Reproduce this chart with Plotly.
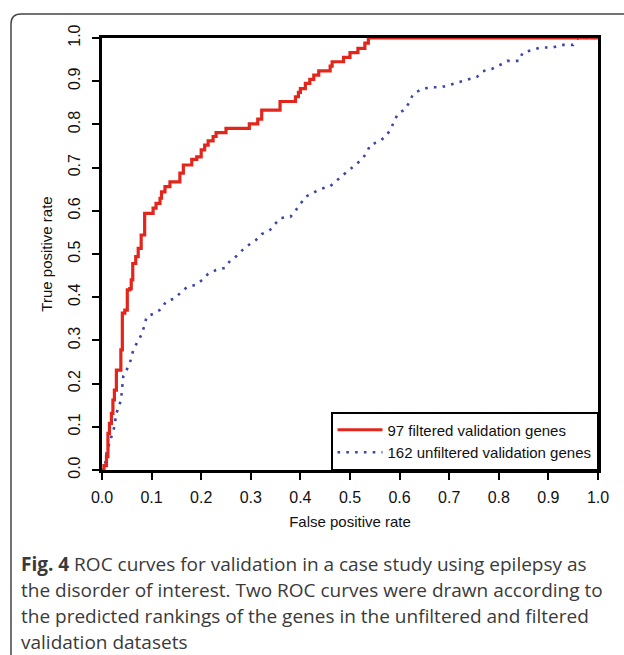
import plotly.graph_objects as go

# Filtered (97 genes) ROC curve - step points (x = FPR where new level starts, y = TPR level)
filtered_fpr = [0, 0.004, 0.009, 0.012, 0.015, 0.019, 0.022, 0.025, 0.029, 0.038,
                0.041, 0.046, 0.051, 0.056, 0.059, 0.062, 0.068, 0.073, 0.079, 0.086,
                0.103, 0.109, 0.117, 0.12, 0.127, 0.137, 0.157, 0.164, 0.181, 0.191,
                0.2, 0.207, 0.214, 0.224, 0.23, 0.25, 0.297, 0.314, 0.322, 0.359,
                0.39, 0.396, 0.4, 0.41, 0.419, 0.427, 0.437, 0.46, 0.464, 0.487,
                0.5, 0.516, 0.53, 0.537, 1.0]
filtered_tpr = [0, 0.01, 0.031, 0.085, 0.108, 0.131, 0.162, 0.185, 0.231, 0.278,
                0.363, 0.37, 0.417, 0.42, 0.44, 0.478, 0.494, 0.513, 0.544, 0.594,
                0.606, 0.617, 0.629, 0.644, 0.656, 0.667, 0.687, 0.706, 0.719, 0.725,
                0.741, 0.752, 0.762, 0.772, 0.781, 0.791, 0.801, 0.812, 0.833, 0.853,
                0.864, 0.874, 0.883, 0.895, 0.904, 0.914, 0.924, 0.935, 0.945, 0.955,
                0.966, 0.976, 0.988, 1.0, 1.0]

# Unfiltered (162 genes) ROC curve
unfiltered_fpr = [0.0, 0.005, 0.009, 0.015, 0.021, 0.026, 0.028, 0.035, 0.039, 0.041,
                  0.043, 0.052, 0.058, 0.063, 0.071, 0.079, 0.085, 0.09, 0.107, 0.12,
                  0.129, 0.146, 0.158, 0.171, 0.19, 0.203, 0.214, 0.23, 0.248, 0.258,
                  0.271, 0.283, 0.297, 0.31, 0.322, 0.339, 0.359, 0.38, 0.391, 0.4,
                  0.411, 0.426, 0.442, 0.46, 0.472, 0.485, 0.498, 0.511, 0.524, 0.534,
                  0.541, 0.558, 0.572, 0.581, 0.589, 0.596, 0.611, 0.62, 0.627, 0.642,
                  0.66, 0.684, 0.702, 0.72, 0.738, 0.756, 0.768, 0.787, 0.803, 0.817,
                  0.841, 0.848, 0.866, 0.884, 0.908, 0.926, 0.95, 0.96, 1.0]
unfiltered_tpr = [0.0, 0.0, 0.039, 0.064, 0.083, 0.104, 0.129, 0.148, 0.17, 0.194,
                  0.218, 0.237, 0.255, 0.278, 0.295, 0.312, 0.332, 0.355, 0.363, 0.373,
                  0.39, 0.397, 0.41, 0.423, 0.429, 0.441, 0.454, 0.463, 0.468, 0.484,
                  0.495, 0.509, 0.522, 0.532, 0.546, 0.556, 0.583, 0.586, 0.602, 0.617,
                  0.633, 0.642, 0.651, 0.657, 0.67, 0.682, 0.694, 0.707, 0.719, 0.735,
                  0.753, 0.76, 0.772, 0.787, 0.806, 0.824, 0.835, 0.852, 0.87, 0.88,
                  0.886, 0.886, 0.892, 0.898, 0.904, 0.91, 0.923, 0.929, 0.938, 0.947,
                  0.947, 0.966, 0.972, 0.978, 0.978, 0.984, 0.984, 1.0, 1.0]

tick_vals = [0.0, 0.1, 0.2, 0.3, 0.4, 0.5, 0.6, 0.7, 0.8, 0.9, 1.0]
tick_text = ["0.0", "0.1", "0.2", "0.3", "0.4", "0.5", "0.6", "0.7", "0.8", "0.9", "1.0"]

series_names = ["97 filtered validation genes", "162 unfiltered validation genes"]

caption_lines = [
    "<b>Fig. 4</b> ROC curves for validation in a case study using epilepsy as",
    "the disorder of interest. Two ROC curves were drawn according to",
    "the predicted rankings of the genes in the unfiltered and filtered",
    "validation datasets",
]

W, H = 624, 655
ML, MR, MT, MB = 102, 26, 38, 185
PW, PH = W - ML - MR, H - MT - MB


def px_x(px):
    return (px - ML) / PW


def px_y(py):
    return (H - MB - py) / PH


fig = go.Figure()
fig.add_trace(go.Scatter(
    x=unfiltered_fpr, y=unfiltered_tpr, mode="lines", name=series_names[1],
    line=dict(color="#3c46a8", width=2.6, dash="2.6px,6.2px"),
))
fig.add_trace(go.Scatter(
    x=filtered_fpr, y=filtered_tpr, mode="lines", name=series_names[0],
    line=dict(color="#e2261c", width=3.2, shape="hv"),
))

FONT = "Liberation Sans, Arial, sans-serif"
tick_font = dict(family=FONT, size=16, color="#111")
title_font = dict(family=FONT, size=15, color="#111")
fig.update_layout(
    width=W, height=H,
    margin=dict(l=ML, r=MR, t=MT, b=MB),
    paper_bgcolor="white", plot_bgcolor="white",
    showlegend=True,
    legend=dict(
        x=1, y=0, xanchor="right", yanchor="bottom",
        bgcolor="white", bordercolor="black", borderwidth=1.5,
        font=dict(family=FONT, size=15, color="#111"),
        traceorder="reversed", tracegroupgap=0,
        itemwidth=45,
    ),
    xaxis=dict(
        range=[0, 1], tickvals=tick_vals, ticktext=tick_text,
        showgrid=False, zeroline=False, showline=True, mirror=True,
        linecolor="black", linewidth=2.5,
        ticks="outside", ticklen=7, tickwidth=2, tickcolor="black",
        tickfont=tick_font, ticklabelstandoff=4,
        title=dict(text="False positive rate", font=title_font, standoff=12),
    ),
    yaxis=dict(
        range=[0, 1], tickvals=tick_vals, ticktext=tick_text,
        showgrid=False, zeroline=False, showline=True, mirror=True,
        linecolor="black", linewidth=2.5,
        ticks="outside", ticklen=7, tickwidth=2, tickcolor="black",
        tickfont=tick_font, tickangle=-90, ticklabelstandoff=6,
        title=dict(text="True positive rate", font=title_font, standoff=10),
    ),
)

# Rounded figure frame (top-left corner visible)
r = 10
x0, y0 = 11, 14
path = (f"M {px_x(x0)} {px_y(H + 20)} L {px_x(x0)} {px_y(y0 + r)} "
        f"Q {px_x(x0)} {px_y(y0)} {px_x(x0 + r)} {px_y(y0)} "
        f"L {px_x(W + 20)} {px_y(y0)}")
fig.add_shape(type="path", path=path, xref="paper", yref="paper",
              line=dict(color="#444", width=1.5), layer="below")

caption_y = [564, 590, 616, 642]
for txt, cy in zip(caption_lines, caption_y):
    fig.add_annotation(
        text=txt, xref="paper", yref="paper",
        x=px_x(19), y=px_y(cy), xanchor="left", yanchor="middle",
        showarrow=False,
        font=dict(family="Open Sans", size=19, color="#3a3a3a"),
    )

fig.write_html("out.html")
